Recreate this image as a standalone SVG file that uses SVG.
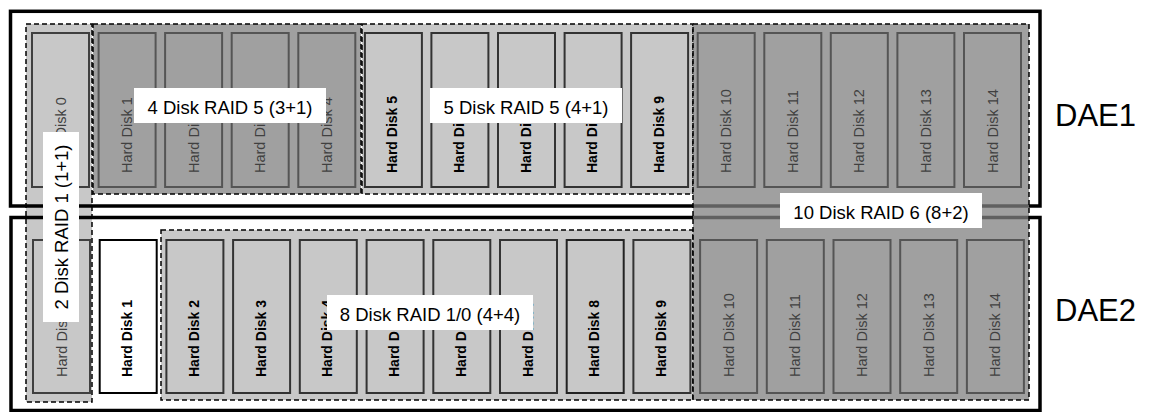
<svg xmlns="http://www.w3.org/2000/svg" width="1151" height="412" viewBox="0 0 1151 412">
<style>
.bg{fill:#fff}
.dae{fill:none;stroke:#000;stroke-width:3.5}
.grp{stroke:#000;stroke-width:1.5;stroke-dasharray:5 3}
.lt{fill:#c8c8c8}
.dk{fill:#a0a0a0}
.shade{fill:#a0a0a0;fill-opacity:0.6}
.disk-lt{fill:#c8c8c8;stroke:#333;stroke-width:2}
.disk-dk{fill:#a0a0a0;stroke:#555;stroke-width:2}
.disk-wh{fill:#fff;stroke:#000;stroke-width:2}
.t{font-family:"Liberation Sans",Arial,sans-serif}
.tb{font-size:14px;font-weight:bold;fill:#000}
.tr{font-size:14.5px;fill:#404040}
.lab{fill:#fff}
.lt18{font-size:18.5px;fill:#000;text-anchor:middle}
.big{font-size:31px;fill:#000;text-anchor:end}
</style>
<rect class="bg" x="0" y="0" width="1151" height="412"/>

<g id="raid1-2disk">
<rect class="grp lt" x="26" y="24" width="66" height="378"/>
</g>
<g id="raid6-base">
<rect class="dk" x="693" y="24" width="336" height="376"/>
</g>

<g id="dae1">
<rect class="dae" x="10.5" y="11.3" width="1029.5" height="194.7"/>
<text class="t big" x="1136" y="126">DAE1</text>
</g>
<g id="dae2">
<rect class="dae" x="11" y="217.5" width="1029" height="193"/>
<text class="t big" x="1136" y="321">DAE2</text>
</g>

<g id="raid5-3p1">
<rect class="grp dk" x="93" y="24" width="268" height="170"/>
</g>
<g id="raid5-4p1">
<rect class="grp lt" x="362" y="24" width="331" height="170"/>
</g>
<g id="raid10-4p4">
<rect class="grp lt" x="161" y="230" width="532" height="170"/>
</g>
<g id="raid6-10disk">
<rect class="grp shade" x="693" y="24" width="336" height="376"/>
</g>

<g id="dae1-disks">
<g id="d1-0"><rect class="disk-lt" x="32" y="33" width="57" height="154" style="stroke:#404040"/><text class="t tr" transform="translate(65.5,173) rotate(-90)">Hard Disk 0</text></g>
<g id="d1-1"><rect class="disk-dk" x="98.6" y="33" width="57" height="154"/><text class="t tr" transform="translate(132.1,173) rotate(-90)">Hard Disk 1</text></g>
<g id="d1-2"><rect class="disk-dk" x="165.1" y="33" width="57" height="154"/><text class="t tr" transform="translate(198.6,173) rotate(-90)">Hard Disk 2</text></g>
<g id="d1-3"><rect class="disk-dk" x="231.7" y="33" width="57" height="154"/><text class="t tr" transform="translate(265.2,173) rotate(-90)">Hard Disk 3</text></g>
<g id="d1-4"><rect class="disk-dk" x="298.3" y="33" width="57" height="154"/><text class="t tr" transform="translate(331.8,173) rotate(-90)">Hard Disk 4</text></g>
<g id="d1-5"><rect class="disk-lt" x="364.9" y="33" width="57" height="154"/><text class="t tb" transform="translate(397.4,173) rotate(-90)">Hard Disk 5</text></g>
<g id="d1-6"><rect class="disk-lt" x="431.4" y="33" width="57" height="154"/><text class="t tb" transform="translate(463.9,173) rotate(-90)">Hard Disk 6</text></g>
<g id="d1-7"><rect class="disk-lt" x="498" y="33" width="57" height="154"/><text class="t tb" transform="translate(530.5,173) rotate(-90)">Hard Disk 7</text></g>
<g id="d1-8"><rect class="disk-lt" x="564.6" y="33" width="57" height="154"/><text class="t tb" transform="translate(597.1,173) rotate(-90)">Hard Disk 8</text></g>
<g id="d1-9"><rect class="disk-lt" x="631.1" y="33" width="57" height="154"/><text class="t tb" transform="translate(663.6,173) rotate(-90)">Hard Disk 9</text></g>
<g id="d1-10"><rect class="disk-dk" x="697.7" y="33" width="57" height="154"/><text class="t tr" transform="translate(731.2,173) rotate(-90)">Hard Disk 10</text></g>
<g id="d1-11"><rect class="disk-dk" x="764.3" y="33" width="57" height="154"/><text class="t tr" transform="translate(797.8,173) rotate(-90)">Hard Disk 11</text></g>
<g id="d1-12"><rect class="disk-dk" x="830.8" y="33" width="57" height="154"/><text class="t tr" transform="translate(864.3,173) rotate(-90)">Hard Disk 12</text></g>
<g id="d1-13"><rect class="disk-dk" x="897.4" y="33" width="57" height="154"/><text class="t tr" transform="translate(930.9,173) rotate(-90)">Hard Disk 13</text></g>
<g id="d1-14"><rect class="disk-dk" x="964" y="33" width="57" height="154"/><text class="t tr" transform="translate(997.5,173) rotate(-90)">Hard Disk 14</text></g>
</g>

<g id="dae2-disks">
<g id="d2-0"><rect class="disk-lt" x="33" y="240" width="57" height="153" style="stroke:#404040"/><text class="t tr" transform="translate(66.5,377) rotate(-90)">Hard Disk 0</text></g>
<g id="d2-1"><rect class="disk-wh" x="99.7" y="240" width="57" height="153"/><text class="t tb" transform="translate(132.2,377) rotate(-90)">Hard Disk 1</text></g>
<g id="d2-2"><rect class="disk-lt" x="166.4" y="240" width="57" height="153"/><text class="t tb" transform="translate(198.9,377) rotate(-90)">Hard Disk 2</text></g>
<g id="d2-3"><rect class="disk-lt" x="233.1" y="240" width="57" height="153"/><text class="t tb" transform="translate(265.6,377) rotate(-90)">Hard Disk 3</text></g>
<g id="d2-4"><rect class="disk-lt" x="299.8" y="240" width="57" height="153"/><text class="t tb" transform="translate(332.3,377) rotate(-90)">Hard Disk 4</text></g>
<g id="d2-5"><rect class="disk-lt" x="366.6" y="240" width="57" height="153"/><text class="t tb" transform="translate(399.1,377) rotate(-90)">Hard Disk 5</text></g>
<g id="d2-6"><rect class="disk-lt" x="433.3" y="240" width="57" height="153"/><text class="t tb" transform="translate(465.8,377) rotate(-90)">Hard Disk 6</text></g>
<g id="d2-7"><rect class="disk-lt" x="500" y="240" width="57" height="153"/><text class="t tb" transform="translate(532.5,377) rotate(-90)">Hard Disk 7</text></g>
<g id="d2-8"><rect class="disk-lt" x="566.7" y="240" width="57" height="153" style="stroke:#222"/><text class="t tb" transform="translate(599.2,377) rotate(-90)">Hard Disk 8</text></g>
<g id="d2-9"><rect class="disk-lt" x="633.4" y="240" width="57" height="153"/><text class="t tb" transform="translate(665.9,377) rotate(-90)">Hard Disk 9</text></g>
<g id="d2-10"><rect class="disk-dk" x="700.1" y="240" width="57" height="153"/><text class="t tr" transform="translate(733.6,377) rotate(-90)">Hard Disk 10</text></g>
<g id="d2-11"><rect class="disk-dk" x="766.8" y="240" width="57" height="153"/><text class="t tr" transform="translate(800.3,377) rotate(-90)">Hard Disk 11</text></g>
<g id="d2-12"><rect class="disk-dk" x="833.5" y="240" width="57" height="153"/><text class="t tr" transform="translate(867,377) rotate(-90)">Hard Disk 12</text></g>
<g id="d2-13"><rect class="disk-dk" x="900.2" y="240" width="57" height="153"/><text class="t tr" transform="translate(933.7,377) rotate(-90)">Hard Disk 13</text></g>
<g id="d2-14"><rect class="disk-dk" x="966.9" y="240" width="57" height="153"/><text class="t tr" transform="translate(1000.4,377) rotate(-90)">Hard Disk 14</text></g>
</g>

<g id="labels">
<g id="lab-raid5-3p1"><rect class="lab" x="134" y="88" width="192" height="35"/><text class="t lt18" x="230" y="113.5">4 Disk RAID 5 (3+1)</text></g>
<g id="lab-raid5-4p1"><rect class="lab" x="430" y="88" width="192" height="35"/><text class="t lt18" x="526" y="113.5">5 Disk RAID 5 (4+1)</text></g>
<g id="lab-raid6"><rect class="lab" x="780" y="193" width="202" height="35"/><text class="t lt18" x="881" y="218.5">10 Disk RAID 6 (8+2)</text></g>
<g id="lab-raid10"><rect class="lab" x="327" y="295" width="206" height="35"/><text class="t lt18" x="430" y="320.5">8 Disk RAID 1/0 (4+4)</text></g>
<g id="lab-raid1"><rect class="lab" x="43" y="132" width="36" height="190"/><text class="t lt18" transform="translate(67.5,227) rotate(-90)">2 Disk RAID 1 (1+1)</text></g>
</g>
</svg>
